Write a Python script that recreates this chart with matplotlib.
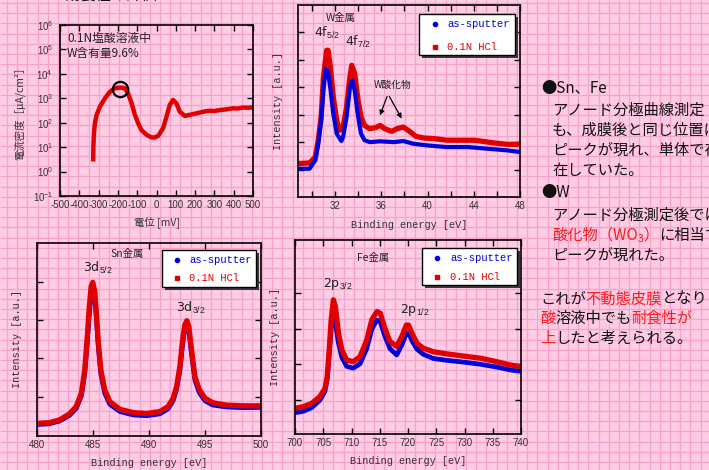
import numpy as np
import matplotlib
matplotlib.use("Agg")
import matplotlib.pyplot as plt
from matplotlib.patches import Rectangle, FancyArrowPatch
from matplotlib.lines import Line2D
from matplotlib.ticker import FixedLocator, NullLocator, NullFormatter, FuncFormatter

plt.rcParams['axes.unicode_minus'] = False
plt.rcParams['mathtext.fontset'] = 'custom'
plt.rcParams['mathtext.rm'] = 'Liberation Sans'
plt.rcParams['mathtext.it'] = 'Liberation Sans:italic'
plt.rcParams['mathtext.bf'] = 'Liberation Sans:bold'

W_PX, H_PX, DPI = 709, 470, 100
JP = ['Noto Sans CJK JP', 'DejaVu Sans']
MONO = ['Liberation Mono', 'DejaVu Sans Mono']
SANS = ['Liberation Sans', 'DejaVu Sans']

RED = '#E00000'
BLUE = '#0000DD'
TXT_RED = '#FF1A1A'

# ---------------- anodic polarisation curve (0.1N HCl, W 9.6%) ----------------
pol_potential = [-328, -327, -324, -319, -310, -293, -267, -241, -216, -190,
                 -164, -147, -129, -112, -95, -78, -52, -26, -9, 9,
                 34, 52, 69, 86, 103, 121, 147, 172, 200, 224,
                 250, 276, 300, 328, 360, 397, 420, 448, 475, 500]
pol_current = [3.2, 10.5, 37, 95, 210, 460, 1000, 1860, 2570, 2750,
               2570, 1580, 620, 210, 95, 50, 32, 25, 25, 29,
               59, 178, 540, 850, 620, 280, 190, 210, 235, 260,
               290, 310, 300, 330, 350, 390, 380, 420, 410, 430]
pol_xticks = [-500, -400, -300, -200, -100, 0, 100, 200, 300, 400, 500]
pol_yticks = [1e-1, 1e0, 1e1, 1e2, 1e3, 1e4, 1e5, 1e6]
pol_mark = (-190, 2350)

# ---------------- W 4f spectra ----------------
w_be_hcl = [28.8, 29.8, 30.3, 30.55, 30.8, 31.0, 31.28, 31.4, 31.6, 31.85,
            32.15, 32.4, 32.7, 33.0, 33.25, 33.45, 33.7, 34.0, 34.25, 34.55,
            35.0, 35.5, 35.9, 36.3, 36.9, 37.35, 37.9, 38.4, 39.0, 39.7,
            40.55, 41.7, 42.85, 44.0, 44.6, 45.75, 46.9, 48.0]
w_int_hcl = [1.22, 1.24, 1.46, 2.07, 2.92, 4.37, 5.35, 5.35, 4.74, 3.65,
             2.79, 2.43, 2.55, 3.28, 4.25, 4.80, 4.50, 3.52, 2.92, 2.61,
             2.49, 2.53, 2.61, 2.49, 2.39, 2.49, 2.55, 2.41, 2.21, 2.15,
             2.13, 2.07, 2.07, 2.07, 2.04, 1.97, 1.92, 1.92]
w_be_as = [28.8, 29.8, 30.3, 30.55, 30.8, 31.0, 31.2, 31.4, 31.6, 31.85,
           32.15, 32.55, 32.7, 33.0, 33.3, 33.5, 33.7, 34.0, 34.25, 34.55,
           35.0, 35.9, 37.1, 37.9, 38.8, 40.0, 41.7, 43.5, 45.2, 46.9, 48.0]
w_int_as = [1.03, 1.03, 1.34, 1.94, 2.79, 3.89, 4.68, 4.56, 3.95, 3.04,
            2.31, 2.04, 2.19, 2.92, 4.01, 4.25, 3.89, 2.92, 2.31, 2.07,
            2.00, 2.03, 2.00, 2.04, 1.94, 1.88, 1.82, 1.82, 1.76, 1.70, 1.64]
w_xticks = [32, 36, 40, 44, 48]

# ---------------- Sn 3d spectra ----------------
sn_be = [480.0, 481.1, 482.0, 482.9, 483.5, 483.96, 484.26, 484.47, 484.65, 484.83,
         484.98, 485.16, 485.3, 485.48, 485.7, 486.05, 486.5, 487.4, 488.6, 489.8,
         490.97, 491.7, 492.16, 492.46, 492.76, 493.0, 493.2, 493.38, 493.56, 493.8,
         494.1, 494.5, 495.0, 495.7, 496.9, 498.4, 500.0]
sn_int_hcl = [0.33, 0.35, 0.42, 0.58, 0.77, 1.12, 1.73, 2.52, 3.30, 3.91,
              4.02, 3.78, 3.21, 2.43, 1.73, 1.21, 0.90, 0.70, 0.61, 0.59,
              0.64, 0.77, 0.99, 1.29, 1.82, 2.52, 2.91, 3.02, 2.86, 2.25,
              1.55, 1.21, 0.99, 0.87, 0.81, 0.79, 0.79]
sn_int_as = [0.30, 0.32, 0.39, 0.54, 0.72, 1.05, 1.62, 2.38, 3.12, 3.70,
             3.83, 3.62, 3.08, 2.32, 1.62, 1.12, 0.83, 0.64, 0.55, 0.53,
             0.58, 0.71, 0.93, 1.22, 1.72, 2.40, 2.80, 2.92, 2.75, 2.14,
             1.46, 1.13, 0.92, 0.81, 0.76, 0.74, 0.75]
sn_xticks = [480, 485, 490, 495, 500]

# ---------------- Fe 2p spectra ----------------
fe_be = [700.0, 701.5, 702.95, 704.4, 705.3, 705.7, 706.1, 706.4, 706.8, 707.15,
         707.7, 708.3, 709.15, 710.3, 711.5, 712.7, 713.6, 714.5, 715.1, 715.9,
         716.8, 718.0, 718.9, 719.7, 720.1, 720.7, 721.6, 722.7, 724.5, 726.9,
         729.8, 732.8, 735.7, 738.1, 740.0]
fe_int_hcl = [0.72, 0.77, 0.86, 1.05, 1.28, 1.61, 2.46, 3.21, 3.77, 3.58,
              2.83, 2.36, 2.08, 2.03, 2.17, 2.64, 3.21, 3.44, 3.39, 2.97,
              2.60, 2.46, 2.74, 3.06, 3.06, 2.83, 2.55, 2.41, 2.31, 2.25,
              2.19, 2.13, 2.03, 1.94, 1.89]
fe_int_as = [0.60, 0.64, 0.74, 0.95, 1.20, 1.55, 2.30, 3.00, 3.40, 3.10,
             2.55, 2.15, 1.90, 1.85, 1.97, 2.40, 2.95, 3.20, 3.15, 2.75,
             2.40, 2.22, 2.50, 2.82, 2.85, 2.62, 2.38, 2.24, 2.12, 2.07,
             2.02, 1.96, 1.88, 1.80, 1.76]
fe_xticks = [700, 705, 710, 715, 720, 725, 730, 735, 740]

legend_labels = ['as-sputter', '0.1N HCl']

# ---------------- figure ----------------
fig = plt.figure(figsize=(W_PX / DPI, H_PX / DPI), dpi=DPI)
fig.patch.set_facecolor('#FFCCE4')


def fx(x):
    return x / W_PX


def fy(y):
    return 1 - y / H_PX


def ax_px(x0, y0, x1, y1):
    return fig.add_axes([fx(x0), fy(y1), (x1 - x0) / W_PX, (y1 - y0) / H_PX])


# graph-paper background
bg = fig.add_axes([0, 0, 1, 1], zorder=-5)
bg.set_xlim(0, W_PX)
bg.set_ylim(H_PX, 0)
bg.axis('off')
bg.vlines(np.arange(7, W_PX, 10.2), 0, H_PX, color='#F6A3CC', lw=0.9)
bg.hlines(np.arange(3, H_PX, 10.2), 0, W_PX, color='#F6A3CC', lw=0.9)


def style_axes(ax):
    ax.set_facecolor('none')
    for s in ax.spines.values():
        s.set_linewidth(1.2)
        s.set_color('black')
    ax.tick_params(which='both', direction='in', length=4, width=1.0,
                   top=True, right=True, labelsize=7, pad=3,
                   labelcolor='#333333', color='black')
    for lab in ax.get_xticklabels() + ax.get_yticklabels():
        lab.set_family(SANS)


# --- polarisation curve ---
ax1 = ax_px(60, 25, 253, 196)
ax1.plot(pol_potential, pol_current, color=RED, lw=3.2, solid_joinstyle='round')
ax1.set_yscale('log')
ax1.set_xlim(-500, 500)
ax1.set_ylim(1e-1, 1e6)
ax1.xaxis.set_major_locator(FixedLocator(pol_xticks))
ax1.yaxis.set_major_locator(FixedLocator(pol_yticks))
ax1.yaxis.set_minor_locator(NullLocator())
ax1.yaxis.set_major_formatter(FuncFormatter(lambda v, p: r'$10^{%d}$' % round(np.log10(v))))
style_axes(ax1)
ax1.tick_params(axis='y', pad=5)
ax1.plot([pol_mark[0]], [pol_mark[1]], marker='o', ms=11, mfc='none', mec='black', mew=1.6)
ax1.set_xlabel('電位 [mV]', family=JP, fontsize=7.5, color='#333333', labelpad=4)
ax1.set_ylabel('電流密度［μA/cm²］', family=JP, fontsize=7.5, color='#333333', labelpad=5)
fig.text(fx(67), fy(38), '0.1N塩酸溶液中', family=JP, fontsize=8.5, va='center', color='#222222')
fig.text(fx(67), fy(53), 'W含有量9.6%', family=JP, fontsize=8.5, va='center', color='#222222')


def xps_axes(rect, xlim, ylim, yticks, xticks, minor_step=None):
    ax = ax_px(*rect)
    ax.set_xlim(*xlim)
    ax.set_ylim(*ylim)
    ax.yaxis.set_major_locator(FixedLocator(yticks))
    ax.yaxis.set_major_formatter(NullFormatter())
    ax.xaxis.set_major_locator(FixedLocator(xticks))
    if minor_step:
        ax.xaxis.set_minor_locator(FixedLocator(np.arange(xlim[0] - xlim[0] % minor_step, xlim[1] + 0.01, minor_step)))
    style_axes(ax)
    ax.set_xlabel('Binding energy [eV]', family=MONO, fontsize=7.4, color='#333333', labelpad=6)
    ax.set_ylabel('Intensity [a.u.]', family=MONO, fontsize=7.4, color='#333333', labelpad=8)
    return ax


def draw_key(box, mark_x, text_x, rows_y):
    x0, y0, x1, y1 = box
    fig.add_artist(Rectangle((fx(x0 + 3), fy(y1 + 3)), (x1 - x0) / W_PX, (y1 - y0) / H_PX,
                             transform=fig.transFigure, facecolor='#3a3a3a', edgecolor='none', zorder=4))
    fig.add_artist(Rectangle((fx(x0), fy(y1)), (x1 - x0) / W_PX, (y1 - y0) / H_PX,
                             transform=fig.transFigure, facecolor='white', edgecolor='black', lw=1.0, zorder=5))
    specs = [(BLUE, 'o', 3.0), (RED, 's', 3.4)]
    for (col, mk, ms), lab, yy in zip(specs, legend_labels, rows_y):
        fig.add_artist(Line2D([fx(mark_x)], [fy(yy)], transform=fig.transFigure, marker=mk,
                              ms=ms, color=col, ls='none', zorder=6))
        fig.text(fx(text_x), fy(yy), lab, family=MONO, fontsize=7.6, color=col, va='center', zorder=6)


# --- W 4f ---
ax2 = xps_axes((298, 5, 520, 197), (28.8, 48), (0, 7), [1, 2, 3, 4, 5, 6], w_xticks, minor_step=2)
ax2.plot(w_be_hcl, w_int_hcl, color=RED, lw=3.8, solid_joinstyle='round')
ax2.plot(w_be_as, w_int_as, color=BLUE, lw=3.0, solid_joinstyle='round')
fig.text(fx(341), fy(18), 'W金属', family=JP, fontsize=7.5, ha='center', va='center', color='#222222')
fig.text(fx(314), fy(37), r'4f$_{5/2}$', fontsize=9, va='baseline', color='#222222')
fig.text(fx(345), fy(46), r'4f$_{7/2}$', fontsize=9, va='baseline', color='#222222')
fig.text(fx(393), fy(85), 'W酸化物', family=JP, fontsize=7, ha='center', va='center', color='#222222')
for tx, ty in [(379, 118), (403, 121)]:
    fig.add_artist(FancyArrowPatch((fx(388), fy(94)), (fx(tx), fy(ty)),
                   transform=fig.transFigure, arrowstyle='-|>', mutation_scale=7,
                   color='black', lw=0.9, zorder=6))
draw_key((419, 14, 515, 55), 435, 447, (24, 47))

# --- Sn 3d ---
ax3 = xps_axes((37, 243, 261, 436), (480, 500), (0, 5.05), [1.03, 2.03, 3.03, 4.03], sn_xticks)
ax3.plot(sn_be, sn_int_as, color=BLUE, lw=3.4, solid_joinstyle='round')
ax3.plot(sn_be, sn_int_hcl, color=RED, lw=3.8, solid_joinstyle='round')
fig.text(fx(127), fy(254), 'Sn金属', family=JP, fontsize=7.5, ha='center', va='center', color='#222222')
fig.text(fx(83), fy(272), r'3d$_{5/2}$', fontsize=9, va='baseline', color='#222222')
fig.text(fx(176), fy(312), r'3d$_{3/2}$', fontsize=9, va='baseline', color='#222222')
draw_key((162, 250, 256, 287), 177, 189, (260, 278))

# --- Fe 2p ---
ax4 = xps_axes((295, 240, 521, 434), (700, 740), (0, 5.45), [0.96, 1.96, 2.96, 3.96], fe_xticks)
ax4.plot(fe_be, fe_int_as, color=BLUE, lw=3.4, solid_joinstyle='round')
ax4.plot(fe_be, fe_int_hcl, color=RED, lw=3.8, solid_joinstyle='round')
fig.text(fx(373), fy(258), 'Fe金属', family=JP, fontsize=7.5, ha='center', va='center', color='#222222')
fig.text(fx(323), fy(287), r'2p$_{3/2}$', fontsize=9, va='baseline', color='#222222')
fig.text(fx(400), fy(313), r'2p$_{1/2}$', fontsize=9, va='baseline', color='#222222')
draw_key((422, 248, 517, 285), 437, 450, (258, 277))

# --- commentary on the right (runs off the slide edge) ---
renderer = fig.canvas.get_renderer()


def rich_line(x_px, y_px, parts, size=11):
    x = x_px
    for part in parts:
        s, c = part[0], part[1]
        sz = part[2] if len(part) > 2 else size
        dy = part[3] if len(part) > 3 else 0
        t = fig.text(fx(x), fy(y_px + dy), s, color=c, fontsize=sz, va='center', ha='left', family=JP)
        x += t.get_window_extent(renderer).width


K = '#111111'
rich_line(541, 88, [('●Sn、Fe', K)])
rich_line(552, 110, [('アノード分極曲線測定', K)])
rich_line(552, 130, [('も、成膜後と同じ位置に', K)])
rich_line(552, 150, [('ピークが現れ、単体で存', K)])
rich_line(552, 170, [('在していた。', K)])
rich_line(541, 193, [('●W', K)])
rich_line(552, 215, [('アノード分極測定後では', K)])
rich_line(552, 235, [('酸化物（WO', TXT_RED), ('3', TXT_RED, 7.5, 4), ('）', TXT_RED), ('に相当す', K)])
rich_line(552, 255, [('ピークが現れた。', K)])
rich_line(540, 299, [('これが', K), ('不動態皮膜', TXT_RED), ('となり', K)])
rich_line(540, 318, [('酸', TXT_RED), ('溶液中でも', K), ('耐食性が', TXT_RED)])
rich_line(540, 338, [('上', TXT_RED), ('したと考えられる。', K)])
fig.text(fx(50), fy(-5), '・耐食性の評価', family=JP, fontsize=11, va='center', color=K)

fig.savefig('out.png', dpi=DPI, facecolor=fig.get_facecolor())
